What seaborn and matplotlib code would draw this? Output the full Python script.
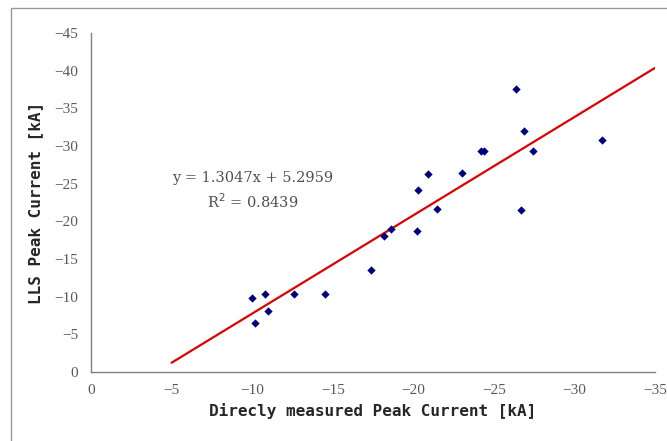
import seaborn as sns
import matplotlib.pyplot as plt
import matplotlib.patches as mpatches
import numpy as np
import pandas as pd

# Data (kA)
direct = [-10.0, -10.2, -10.8, -11.0, -12.6, -14.5, -17.4, -18.2, -18.6, -20.2, -20.3,
          -20.9, -21.5, -23.0, -24.2, -24.4, -26.4, -26.7, -26.9, -27.4, -31.7]
lls = [-9.8, -6.5, -10.4, -8.1, -10.4, -10.4, -13.5, -18.1, -19.0, -18.7, -24.2,
       -26.3, -21.6, -26.4, -29.4, -29.4, -37.6, -21.5, -32.0, -29.4, -30.8]

# Linear trend from the chart label
slope = 1.3047
intercept = 5.2959
r2 = 0.8439
trend_x = [-5, -35]

x_ticks = [0, -5, -10, -15, -20, -25, -30, -35]
y_ticks = [0, -5, -10, -15, -20, -25, -30, -35, -40, -45]

df = pd.DataFrame({"direct": direct, "lls": lls})
trend = pd.DataFrame({"x": trend_x})
trend["y"] = slope * trend["x"] + intercept

sns.set_style("white")
plt.rcParams["axes.unicode_minus"] = True

fig = plt.figure(figsize=(6.67, 4.41), dpi=100)
ax = fig.add_axes([91 / 667, 1 - 372 / 441, (655 - 91) / 667, (372 - 33) / 441])

sns.lineplot(data=trend, x="x", y="y", color="#e00000", linewidth=1.6, ax=ax)
sns.scatterplot(data=df, x="direct", y="lls", marker="D", s=18, color="#000080",
                linewidth=0, ax=ax, zorder=3)

ax.set_xlim(0, -35)
ax.set_ylim(0, -45)
ax.set_xticks(x_ticks)
ax.set_yticks(y_ticks)

gray = "#808080"
for side in ["top", "right"]:
    ax.spines[side].set_visible(False)
for side in ["left", "bottom"]:
    ax.spines[side].set_color(gray)
    ax.spines[side].set_linewidth(1.0)

ax.tick_params(axis="both", direction="in", length=3.5, width=0.8, color=gray,
               labelcolor="#5a5a5a", labelsize=11, pad=9)
for lab in ax.get_xticklabels() + ax.get_yticklabels():
    lab.set_family("Liberation Serif")

ax.set_xlabel("Direcly measured Peak Current [kA]", family="DejaVu Sans Mono",
              fontweight="bold", fontsize=11.5, labelpad=4)
ax.set_ylabel("LLS Peak Current [kA]", family="DejaVu Sans Mono",
              fontweight="bold", fontsize=11.5, labelpad=8)

ax.text(-10.05, -25.7, f"y = {slope}x + {intercept}", family="DejaVu Serif",
        fontsize=10.5, color="#505050", ha="center", va="center")
ax.text(-10.05, -22.6, f"R$^2$ = {r2}", family="DejaVu Serif",
        fontsize=10.5, color="#505050", ha="center", va="center")

# outer chart-area border
fig.patches.append(mpatches.Rectangle((11 / 667, -0.1), 1.2, 1 - 8 / 441 + 0.1,
                                      transform=fig.transFigure, fill=False,
                                      edgecolor="#999999", linewidth=1.0))

fig.savefig("out.png", dpi=100)
